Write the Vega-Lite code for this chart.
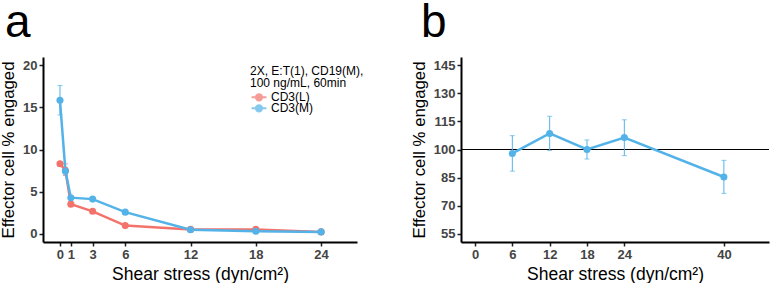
{
  "$schema": "https://vega.github.io/schema/vega-lite/v6.json",
  "padding": {"left": 0, "top": 0, "right": 0, "bottom": 0},
  "spacing": 54,
  "config": {
    "view": {"stroke": null},
    "font": "Liberation Sans",
    "axis": {
      "grid": false,
      "labelOverlap": false,
      "domainColor": "#000000",
      "domainWidth": 2,
      "tickColor": "#222222",
      "tickSize": 4,
      "tickWidth": 1.5,
      "labelFont": "Liberation Sans",
      "labelFontWeight": "bold",
      "labelFontSize": 13,
      "labelColor": "#444444",
      "labelPadding": 2,
      "titleFont": "Liberation Sans",
      "titleFontWeight": "normal",
      "titleColor": "#000000"
    },
    "axisX": {"titleFontSize": 17.5, "titlePadding": 4},
    "axisY": {"titleFontSize": 16.8, "titlePadding": 5},
    "title": {"font": "Liberation Sans", "fontWeight": "normal", "color": "#000000"}
  },
  "hconcat": [
    {
      "width": 314,
      "height": 185,
      "title": {"text": "a", "anchor": "start", "frame": "group", "dx": -38, "fontSize": 46, "offset": 10},
      "data": {
        "values": [
          {"series": "CD3(L)", "shear": 0, "value": 8.3, "lo": null, "hi": null},
          {"series": "CD3(L)", "shear": 0.5, "value": 7.5, "lo": 6.9, "hi": 8.3},
          {"series": "CD3(L)", "shear": 1, "value": 3.5, "lo": null, "hi": null},
          {"series": "CD3(L)", "shear": 3, "value": 2.65, "lo": null, "hi": null},
          {"series": "CD3(L)", "shear": 6, "value": 0.95, "lo": null, "hi": null},
          {"series": "CD3(L)", "shear": 12, "value": 0.5, "lo": null, "hi": null},
          {"series": "CD3(L)", "shear": 18, "value": 0.5, "lo": null, "hi": null},
          {"series": "CD3(L)", "shear": 24, "value": 0.2, "lo": null, "hi": null},
          {"series": "CD3(M)", "shear": 0, "value": 15.85, "lo": 14.1, "hi": 17.6},
          {"series": "CD3(M)", "shear": 0.5, "value": 7.45, "lo": 7.0, "hi": 7.9},
          {"series": "CD3(M)", "shear": 1, "value": 4.27, "lo": null, "hi": null},
          {"series": "CD3(M)", "shear": 3, "value": 4.1, "lo": null, "hi": null},
          {"series": "CD3(M)", "shear": 6, "value": 2.55, "lo": null, "hi": null},
          {"series": "CD3(M)", "shear": 12, "value": 0.45, "lo": null, "hi": null},
          {"series": "CD3(M)", "shear": 18, "value": 0.27, "lo": null, "hi": null},
          {"series": "CD3(M)", "shear": 24, "value": 0.2, "lo": null, "hi": null}
        ]
      },
      "encoding": {
        "x": {
          "field": "shear", "type": "quantitative",
          "scale": {"domain": [-1.56, 27.3], "nice": false, "zero": false},
          "axis": {"values": [0, 1, 3, 6, 12, 18, 24], "title": "Shear stress (dyn/cm²)"}
        },
        "color": {
          "field": "series", "type": "nominal",
          "scale": {"domain": ["CD3(L)", "CD3(M)"], "range": ["#F3736B", "#53B3E8"]},
          "legend": {
            "title": ["2X, E:T(1), CD19(M),", "100 ng/mL, 60min"],
            "orient": "none",
            "legendX": 207,
            "legendY": 9,
            "titleFontSize": 12,
            "titleLineHeight": 11.5,
            "titleFontWeight": "normal",
            "titleColor": "#000000",
            "titlePadding": 3,
            "labelFontSize": 12,
            "labelColor": "#000000",
            "labelOffset": 6,
            "rowPadding": -3,
            "clipHeight": 9.7,
            "symbolOffset": 3,
            "symbolType": "M-1.65,0H1.65M-0.7,0A0.7,0.7 0 1 0 0.7,0A0.7,0.7 0 1 0 -0.7,0Z",
            "symbolSize": 81,
            "symbolStrokeWidth": 2
          }
        }
      },
      "layer": [
        {
          "transform": [{"filter": "datum.lo != null"}],
          "mark": {"type": "errorbar", "ticks": true, "thickness": 1},
          "encoding": {
            "y": {"field": "lo", "type": "quantitative", "title": "Effector cell % engaged",
                  "scale": {"domain": [-1, 21], "nice": false, "zero": false},
                  "axis": {"values": [0, 5, 10, 15, 20]}},
            "y2": {"field": "hi"}
          }
        },
        {
          "mark": {"type": "line", "strokeWidth": 2.5},
          "encoding": {
            "y": {"field": "value", "type": "quantitative", "title": "Effector cell % engaged",
                  "scale": {"domain": [-1, 21], "nice": false, "zero": false},
                  "axis": {"values": [0, 5, 10, 15, 20]}}
          }
        },
        {
          "mark": {"type": "point", "filled": true, "size": 50, "opacity": 1},
          "encoding": {
            "y": {"field": "value", "type": "quantitative", "title": "Effector cell % engaged",
                  "scale": {"domain": [-1, 21], "nice": false, "zero": false},
                  "axis": {"values": [0, 5, 10, 15, 20]}}
          }
        }
      ]
    },
    {
      "width": 308,
      "height": 185,
      "title": {"text": "b", "anchor": "start", "frame": "group", "dx": -40, "fontSize": 46, "offset": 10},
      "data": {
        "values": [
          {"shear": 6, "value": 97.9, "lo": 88.4, "hi": 107.4},
          {"shear": 12, "value": 108.6, "lo": 99.5, "hi": 117.8},
          {"shear": 18, "value": 100.0, "lo": 94.9, "hi": 105.1},
          {"shear": 24, "value": 106.4, "lo": 96.7, "hi": 115.9},
          {"shear": 40, "value": 85.3, "lo": 76.5, "hi": 94.2}
        ]
      },
      "encoding": {
        "x": {
          "field": "shear", "type": "quantitative",
          "scale": {"domain": [-2.25, 47.25], "nice": false, "zero": false},
          "axis": {"values": [0, 6, 12, 18, 24, 40], "title": "Shear stress (dyn/cm²)"}
        }
      },
      "layer": [
        {
          "mark": {"type": "rule", "color": "#000000", "strokeWidth": 1},
          "encoding": {"y": {"datum": 100, "type": "quantitative", "title": "Effector cell % engaged", "scale": {"domain": [50.5, 149.5], "nice": false, "zero": false}, "axis": {"values": [55, 70, 85, 100, 115, 130, 145]}}, "x": null}
        },
        {
          "mark": {"type": "errorbar", "ticks": true, "thickness": 1, "color": "#53B3E8"},
          "encoding": {
            "y": {"field": "lo", "type": "quantitative", "title": "Effector cell % engaged",
                  "scale": {"domain": [50.5, 149.5], "nice": false, "zero": false},
                  "axis": {"values": [55, 70, 85, 100, 115, 130, 145]}},
            "y2": {"field": "hi"}
          }
        },
        {
          "mark": {"type": "line", "strokeWidth": 2.5, "color": "#53B3E8"},
          "encoding": {
            "y": {"field": "value", "type": "quantitative", "title": "Effector cell % engaged",
                  "scale": {"domain": [50.5, 149.5], "nice": false, "zero": false},
                  "axis": {"values": [55, 70, 85, 100, 115, 130, 145]}}
          }
        },
        {
          "mark": {"type": "point", "filled": true, "size": 50, "opacity": 1, "color": "#53B3E8"},
          "encoding": {
            "y": {"field": "value", "type": "quantitative", "title": "Effector cell % engaged",
                  "scale": {"domain": [50.5, 149.5], "nice": false, "zero": false},
                  "axis": {"values": [55, 70, 85, 100, 115, 130, 145]}}
          }
        }
      ]
    }
  ]
}
